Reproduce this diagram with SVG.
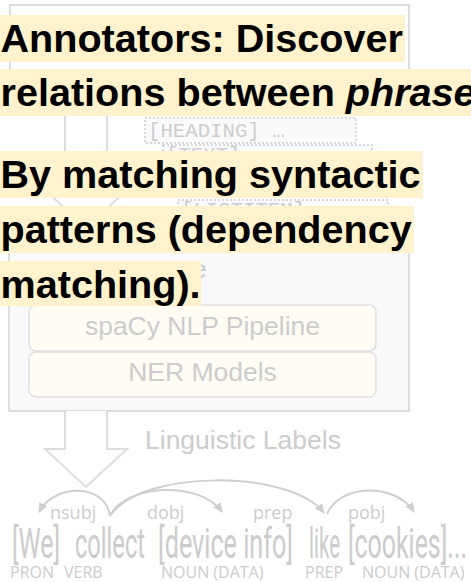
<svg xmlns="http://www.w3.org/2000/svg" width="471" height="582" viewBox="0 0 471 582">
  <style>
    .frame { fill: #ffffff; stroke: #dddddd; stroke-width: 2; }
    .panel { fill: #f9f9f9; stroke: #dddddd; stroke-width: 2; }
    .module { fill: #fffcf3; stroke: #e0e0e0; stroke-width: 1.5; }
    .tag { fill: #fafafa; stroke: #cccccc; stroke-width: 1.5; stroke-dasharray: 2 2; }
    .tag-text { font-family: "Liberation Mono", "DejaVu Sans Mono", monospace; font-size: 20.7px; fill: #cdcdcd; }
    .label { font-family: "Liberation Sans", Arial, sans-serif; font-size: 26.5px; fill: #cccccc; }
    .block-arrow { fill: #ffffff; stroke: #dddddd; stroke-width: 2; stroke-linejoin: miter; }
    .arc { fill: none; stroke: #cfcfcf; stroke-width: 2; marker-end: url(#arc-head); }
    .token { font-family: Roboto, "Liberation Sans", sans-serif; font-weight: 400; font-size: 42px; fill: #cccccc; }
    .dep { font-family: "Open Sans", "Liberation Sans", sans-serif; font-size: 18px; fill: #cccccc; }
    .pos { font-family: "Open Sans", "Liberation Sans", sans-serif; font-size: 16px; fill: #cccccc; }
    .band { fill: #fff2cc; }
    .caption { font-family: "Liberation Sans", Arial, sans-serif; font-weight: bold; font-size: 39.6px; fill: #000000; }
  </style>
  <defs>
    <marker id="arc-head" viewBox="0 0 10 10" refX="9" refY="5" markerWidth="10" markerHeight="10" markerUnits="userSpaceOnUse" orient="auto">
      <path d="M0,0.5 L10,5 L0,9.5 z" fill="#cfcfcf"/>
    </marker>
  </defs>

  <!-- input document frame -->
  <g id="source-frame">
    <rect class="frame" x="10" y="5" width="399" height="106"/>
  </g>

  <!-- pipeline container -->
  <g id="pipeline-panel">
    <rect class="panel" x="9" y="232" width="400" height="179"/>
    <text class="label" x="192" y="278">e</text>
  </g>

  <g id="spacy-node">
    <rect class="module" x="29" y="305" width="347" height="46" rx="7"/>
    <text class="label" x="202.5" y="335" text-anchor="middle">spaCy NLP Pipeline</text>
  </g>

  <g id="ner-node">
    <rect class="module" x="29" y="352" width="347" height="45" rx="7"/>
    <text class="label" x="202.5" y="381" text-anchor="middle">NER Models</text>
  </g>

  <!-- flow connectors and dependency arcs -->
  <g id="connectors">
    <path class="block-arrow" d="M65,111 V190 H45 L86,228 L127,190 H107 V111"/>
    <path class="block-arrow" d="M65,411 V449 H45 L86,487 L127,449 H107 V411"/>
    <path class="arc" d="M110,516 C105,483 55,483 39,512"/>
    <path class="arc" d="M110,516 C125,484 200,480 222,512"/>
    <path class="arc" d="M110,516 C140,469 290,469 324,513"/>
    <path class="arc" d="M327,514 C340,483 396,483 414,512"/>
  </g>

  <!-- structural tags -->
  <g id="heading-tag">
    <rect class="tag" x="145" y="118" width="211" height="25"/>
    <text class="tag-text" x="148" y="137">[HEADING] …</text>
  </g>
  <g id="text-tag">
    <rect class="tag" x="163" y="145" width="209" height="26"/>
    <text class="tag-text" x="166" y="161">[TEXT]</text>
  </g>
  <g id="listitem-tag">
    <rect class="tag" x="178" y="200" width="210" height="26"/>
    <text class="tag-text" x="181" y="216">[LISTITEM]</text>
  </g>

  <g id="linguistic-labels">
    <text class="label" x="145" y="449">Linguistic Labels</text>
  </g>

  <!-- parsed sentence -->
  <g id="dependency-parse">
    <text class="token" x="12" y="558" textLength="48" lengthAdjust="spacingAndGlyphs">[We]</text>
    <text class="token" x="75" y="558" textLength="70" lengthAdjust="spacingAndGlyphs">collect</text>
    <text class="token" x="158" y="558" textLength="135" lengthAdjust="spacingAndGlyphs">[device info]</text>
    <text class="token" x="309" y="558" textLength="31" lengthAdjust="spacingAndGlyphs">like</text>
    <text class="token" x="348" y="558" textLength="119" lengthAdjust="spacingAndGlyphs">[cookies]...</text>

    <text class="dep" x="50" y="519">nsubj</text>
    <text class="dep" x="147" y="519">dobj</text>
    <text class="dep" x="253" y="519">prep</text>
    <text class="dep" x="348" y="519">pobj</text>

    <text class="pos" x="10" y="578">PRON</text>
    <text class="pos" x="64" y="578">VERB</text>
    <text class="pos" x="161" y="578">NOUN (DATA)</text>
    <text class="pos" x="305" y="578">PREP</text>
    <text class="pos" x="362" y="578">NOUN (DATA)</text>
  </g>

  <!-- highlighted caption -->
  <g id="caption">
    <rect class="band" x="0" y="15" width="405" height="47"/>
    <rect class="band" x="0" y="69" width="471" height="47"/>
    <rect class="band" x="0" y="151" width="423" height="47"/>
    <rect class="band" x="0" y="206" width="414" height="47"/>
    <rect class="band" x="0" y="261" width="201" height="45"/>
    <text class="caption" x="0.5" y="52">Annotators: Discover</text>
    <text class="caption" x="0.5" y="106">relations between <tspan font-style="italic">phrase</tspan></text>
    <text class="caption" x="0.5" y="188">By matching syntactic</text>
    <text class="caption" x="0.5" y="243">patterns (dependency</text>
    <text class="caption" x="0.5" y="298">matching).</text>
  </g>
</svg>
